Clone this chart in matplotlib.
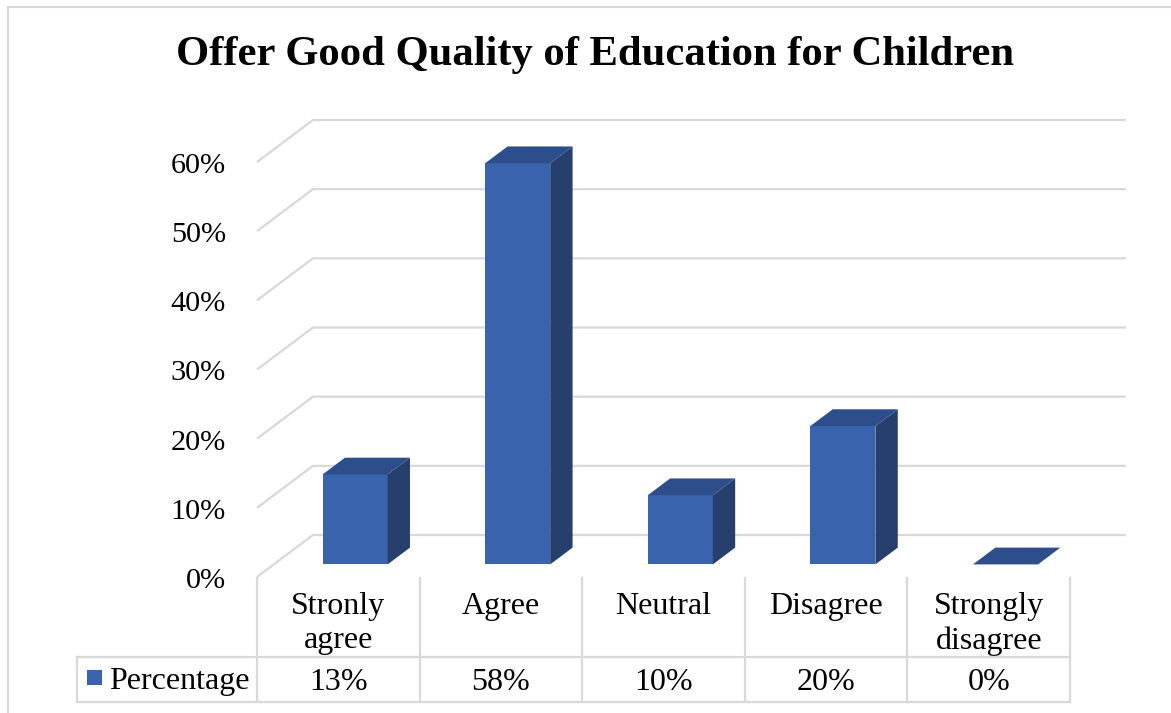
import matplotlib

matplotlib.use("Agg")
import matplotlib.pyplot as plt
from matplotlib.patches import Polygon, Rectangle
from matplotlib.transforms import ScaledTranslation, blended_transform_factory

categories = ["Stronly\nagree", "Agree", "Neutral", "Disagree", "Strongly\ndisagree"]
percentages = [13, 58, 10, 20, 0]
value_labels = ["13%", "58%", "10%", "20%", "0%"]
y_ticks = [0, 10, 20, 30, 40, 50, 60]
series_name = "Percentage"
title = "Offer Good Quality of Education for Children"

W, H = 1171, 713
FRONT = "#3A63AD"
SIDE = "#263F6D"
TOP = "#2E4E8B"
GRID = "#D9D9D9"
FONT = "Liberation Serif"

# oblique depth of the 3-D box, in data units (categories, percent)
DX, DY = 0.344, 6.07
BAR_W = 0.4
Z0, Z1 = 0.3, 0.7  # bar front / back as fraction of the depth

fig = plt.figure(figsize=(W / 100, H / 100), dpi=100)
fig.patch.set_facecolor("white")


def fx(px):
    return px / W


def fy(py):
    return 1 - py / H


# front plane of the plot: category -0.5..4.5 and 0..60 %
ax = fig.add_axes([fx(257), fy(577), fx(1070) - fx(257), fy(162) - fy(577)])
ax.set_xlim(-0.5, len(categories) - 0.5)
ax.set_ylim(0, 60)
ax.axis("off")

x_left = -0.5
x_right = len(categories) - 0.5
tick_shift = ax.transData + ScaledTranslation(-31 / 100, -4 / 100, fig.dpi_scale_trans)

# back wall gridlines with the diagonal on the left side wall
for v in y_ticks:
    ax.plot([x_left, x_left + DX, x_right + DX], [v, v + DY, v + DY],
            color=GRID, lw=1.6, clip_on=False, zorder=1, solid_capstyle="butt")
    ax.text(x_left, v, f"{v}%", transform=tick_shift,
            ha="right", va="center", fontsize=21.8, family=FONT)

# 3-D columns
for i, v in enumerate(percentages):
    x0 = i - BAR_W / 2 + Z0 * DX
    x1 = i + BAR_W / 2 + Z0 * DX
    y0 = Z0 * DY
    ddx = (Z1 - Z0) * DX
    ddy = (Z1 - Z0) * DY
    top = v + y0
    if v > 0:
        ax.add_patch(Polygon([(x0, y0), (x1, y0), (x1, top), (x0, top)],
                             closed=True, fc=FRONT, ec="none", clip_on=False, zorder=3))
        ax.add_patch(Polygon([(x1, y0), (x1 + ddx, y0 + ddy), (x1 + ddx, top + ddy), (x1, top)],
                             closed=True, fc=SIDE, ec="none", clip_on=False, zorder=3))
    ax.add_patch(Polygon([(x0, top), (x1, top), (x1 + ddx, top + ddy), (x0 + ddx, top + ddy)],
                         closed=True, fc=TOP, ec="none", clip_on=False, zorder=3))

# data table under the plot
tr = blended_transform_factory(ax.transData, fig.transFigure)
row_top, row_mid, row_bot = fy(578), fy(657), fy(702)
row_text = fy(682)
for b in range(len(categories) + 1):
    ax.plot([b - 0.5, b - 0.5], [row_top, row_bot], color=GRID, lw=1.6,
            transform=tr, clip_on=False)
for yy in (row_mid, row_bot):
    fig.add_artist(plt.Line2D([fx(77), fx(1070)], [yy, yy], color=GRID, lw=1.6))
fig.add_artist(plt.Line2D([fx(77), fx(77)], [row_mid, row_bot], color=GRID, lw=1.6))

for i, (cat, lab) in enumerate(zip(categories, value_labels)):
    ax.text(i, fy(592), cat, transform=tr, ha="center", va="top",
            fontsize=23, family=FONT, linespacing=1.24)
    ax.text(i, row_text, lab, transform=tr, ha="center",
            va="center", fontsize=23, family=FONT)

fig.add_artist(Rectangle((fx(87), fy(685)), fx(15), fy(670) - fy(685),
                         transform=fig.transFigure, fc=FRONT, ec="none"))
fig.text(fx(109), row_text, series_name, ha="left", va="center",
         fontsize=23, family=FONT)

fig.text(fx(595), fy(55), title, ha="center", va="center", fontsize=30.7,
         fontweight="bold", family=FONT)

# chart area border
fig.add_artist(plt.Line2D([fx(8), fx(8)], [0, fy(7)], color=GRID, lw=1.5))
fig.add_artist(plt.Line2D([fx(8), 1], [fy(7), fy(7)], color=GRID, lw=1.5))

fig.savefig("out.png", dpi=100, facecolor="white")
